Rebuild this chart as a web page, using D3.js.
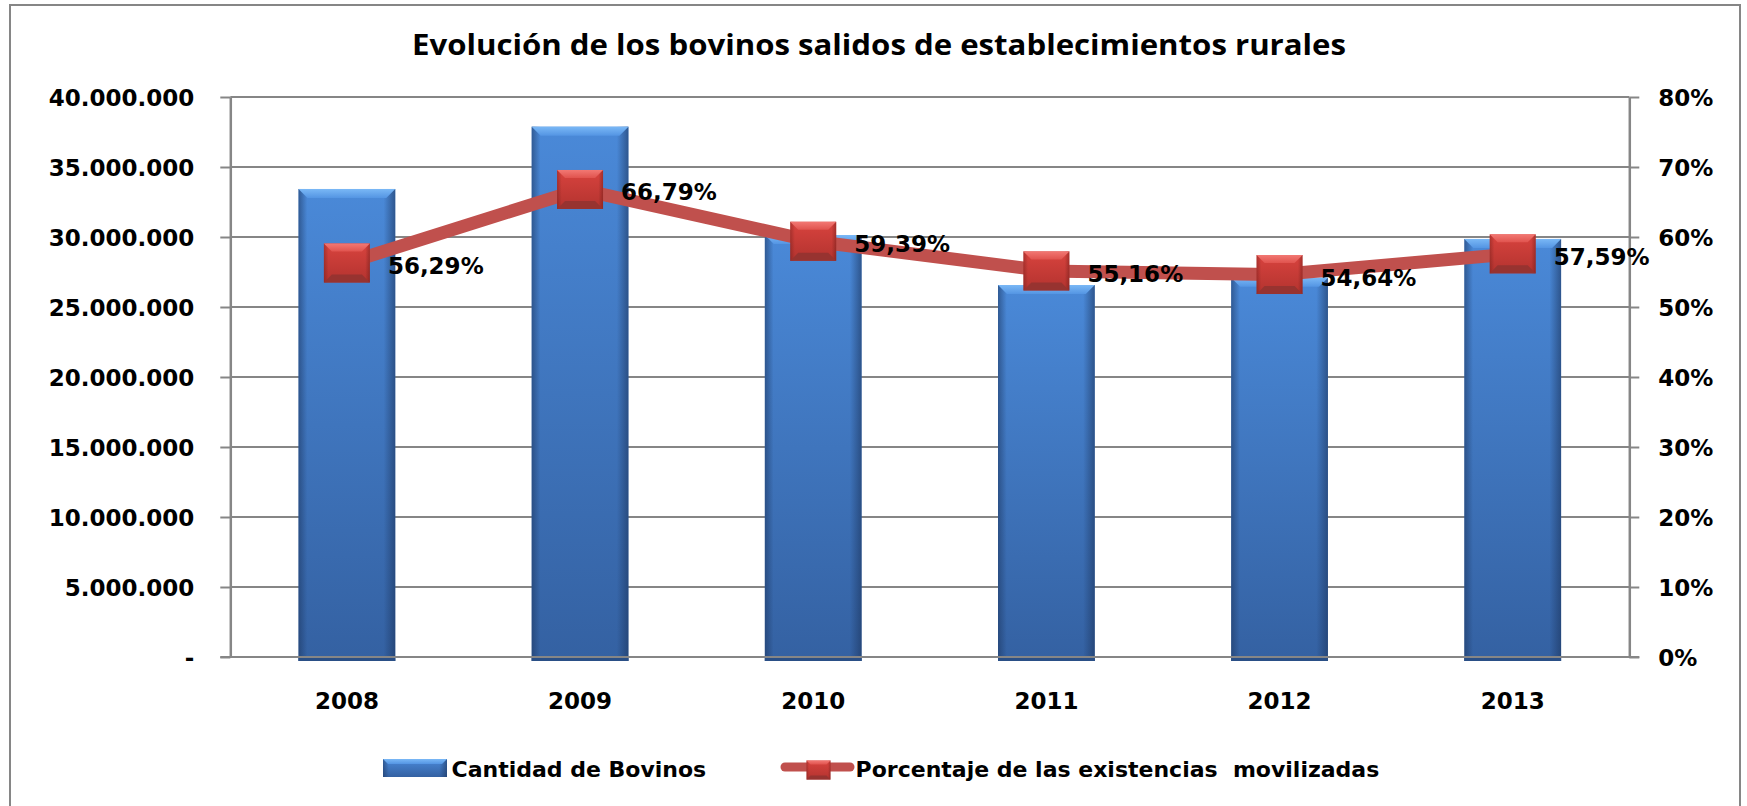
<!DOCTYPE html>
<html>
<head>
<meta charset="utf-8">
<script src="https://cdn.jsdelivr.net/npm/d3@7"></script>
<style>
  body { margin: 0; background: #fff; }
  svg text { font-family: "DejaVu Sans", sans-serif; font-weight: bold; fill: #000; }
</style>
</head>
<body>
<div id="chart"></div>
<script>
const years = ["2008", "2009", "2010", "2011", "2012", "2013"];
const bovinos = [33430000, 37880000, 30140000, 26570000, 27090000, 29860000];
const porcentaje = [56.29, 66.79, 59.39, 55.16, 54.64, 57.59];
const leftTicks = [0, 5000000, 10000000, 15000000, 20000000, 25000000, 30000000, 35000000, 40000000];
const rightTicks = [0, 10, 20, 30, 40, 50, 60, 70, 80];
const title = "Evolución de los bovinos salidos de establecimientos rurales";
const seriesNames = ["Cantidad de Bovinos", "Porcentaje de las existencias  movilizadas"];

const W = 1747, H = 806;
const plot = { left: 230.3, right: 1629.3, top: 97, bottom: 657 };
const grey = "#868686";

const svg = d3.select("#chart").append("svg")
  .attr("width", W).attr("height", H);

const locale = d3.formatLocale({ decimal: ",", thousands: ".", grouping: [3], currency: ["$", ""] });
const fmtInt = locale.format(",d");
const fmtPct = locale.format(",.2f");

// gradients
const defs = svg.append("defs");
function linGrad(id, vertical, stops) {
  const g = defs.append("linearGradient").attr("id", id)
    .attr("x1", 0).attr("y1", 0).attr("x2", vertical ? 0 : 1).attr("y2", vertical ? 1 : 0);
  stops.forEach(s => g.append("stop").attr("offset", s[0]).attr("stop-color", s[1]).attr("stop-opacity", s[2] == null ? 1 : s[2]));
}
linGrad("barV", true, [["0%", "#4a89d8"], ["100%", "#3461a2"]]);
linGrad("barH", false, [["0%", "#1c355e", 0.55], ["9%", "#1c355e", 0], ["88%", "#1c355e", 0], ["100%", "#1c355e", 0.6]]);
linGrad("barTop", true, [["0%", "#7ab8f6"], ["100%", "#5495e3"]]);
linGrad("mkV", true, [["0%", "#d8433e"], ["100%", "#b3332f"]]);
linGrad("mkH", false, [["0%", "#5a1512", 0.35], ["10%", "#5a1512", 0], ["90%", "#5a1512", 0], ["100%", "#5a1512", 0.4]]);
linGrad("mkTop", true, [["0%", "#f27873"], ["100%", "#e0534e"]]);

// frame
svg.append("rect")
  .attr("x", 10).attr("y", 5).attr("width", 1730).attr("height", 810)
  .attr("fill", "none").attr("stroke", grey).attr("stroke-width", 2);

// title
svg.append("text")
  .attr("x", 879).attr("y", 55)
  .attr("text-anchor", "middle")
  .attr("textLength", 934)
  .attr("lengthAdjust", "spacingAndGlyphs")
  .style("font-family", "'Open Sans', sans-serif")
  .style("font-size", "28px")
  .text(title);

const x = d3.scaleBand().domain(years)
  .range([plot.left, plot.right])
  .paddingInner(0.585).paddingOuter(0.2925);
const yL = d3.scaleLinear().domain([0, 40000000]).range([plot.bottom, plot.top]);
const yR = d3.scaleLinear().domain([0, 80]).range([plot.bottom, plot.top]);

// gridlines
svg.append("g").selectAll("line").data(leftTicks).join("line")
  .attr("x1", plot.left).attr("x2", plot.right)
  .attr("y1", d => yL(d)).attr("y2", d => yL(d))
  .attr("stroke", grey).attr("stroke-width", 2);

// left axis
const gL = svg.append("g").attr("transform", `translate(${plot.left},0)`)
  .call(d3.axisLeft(yL).tickValues(leftTicks).tickSize(10).tickSizeOuter(0).tickPadding(26)
    .tickFormat(d => d === 0 ? "-" : fmtInt(d)));
// right axis
const gR = svg.append("g").attr("transform", `translate(${plot.right},0)`)
  .call(d3.axisRight(yR).tickValues(rightTicks).tickSize(10).tickSizeOuter(0).tickPadding(19)
    .tickFormat(d => d + "%"));
[gL, gR].forEach(g => {
  g.select(".domain").attr("stroke", grey).attr("stroke-width", 2.5);
  g.selectAll(".tick line").attr("stroke", grey).attr("stroke-width", 2);
  g.selectAll(".tick text").attr("dy", "0.36em").style("font-size", "23px")
    .style("font-family", "DejaVu Sans, sans-serif").attr("fill", "#000");
});

// bars
const bw = x.bandwidth();
const bars = svg.append("g").selectAll("g").data(years).join("g");
bars.append("rect")
  .attr("x", d => x(d)).attr("width", bw)
  .attr("y", (d, i) => yL(bovinos[i]))
  .attr("height", (d, i) => yL(0) - yL(bovinos[i]) + 4)
  .attr("fill", "url(#barV)");
bars.append("rect")
  .attr("x", d => x(d)).attr("width", bw)
  .attr("y", (d, i) => yL(bovinos[i]))
  .attr("height", (d, i) => yL(0) - yL(bovinos[i]) + 4)
  .attr("fill", "url(#barH)");
bars.append("path")
  .attr("d", (d, i) => {
    const x0 = x(d), x1 = x(d) + bw, t = yL(bovinos[i]);
    return `M${x0},${t}L${x1},${t}L${x1 - 9},${t + 9}L${x0 + 9},${t + 9}Z`;
  })
  .attr("fill", "url(#barTop)");
bars.append("rect")
  .attr("x", d => x(d)).attr("width", bw)
  .attr("y", yL(0) + 1).attr("height", 3)
  .attr("fill", "#2a4f86");

// zero line over the bars
svg.append("line")
  .attr("x1", plot.left - 10).attr("x2", plot.right + 10)
  .attr("y1", yL(0)).attr("y2", yL(0))
  .attr("stroke", grey).attr("stroke-width", 2);

// line series
const cx = d => x(d) + bw / 2;
const line = d3.line().x(d => cx(d)).y((d, i) => yR(porcentaje[i]));
svg.append("path")
  .datum(years)
  .attr("d", line)
  .attr("fill", "none")
  .attr("stroke", "#c0504d")
  .attr("stroke-width", 13)
  .attr("stroke-linejoin", "round");

// markers
function marker(g, mx, my, w, h, b) {
  const x0 = mx - w / 2, y0 = my - h / 2;
  g.append("rect").attr("x", x0).attr("y", y0).attr("width", w).attr("height", h).attr("fill", "url(#mkV)");
  g.append("rect").attr("x", x0).attr("y", y0).attr("width", w).attr("height", h).attr("fill", "url(#mkH)");
  g.append("path")
    .attr("d", `M${x0},${y0}L${x0 + w},${y0}L${x0 + w - b},${y0 + b}L${x0 + b},${y0 + b}Z`)
    .attr("fill", "url(#mkTop)");
  g.append("path")
    .attr("d", `M${x0},${y0 + h}L${x0 + w},${y0 + h}L${x0 + w - b},${y0 + h - b}L${x0 + b},${y0 + h - b}Z`)
    .attr("fill", "#973330");
}
const mk = svg.append("g");
years.forEach((d, i) => marker(mk.append("g"), cx(d), yR(porcentaje[i]), 46, 39, 8));

// data labels
svg.append("g").selectAll("text").data(years).join("text")
  .attr("x", d => cx(d) + 41)
  .attr("y", (d, i) => yR(porcentaje[i]) + 11)
  .style("font-size", "23px")
  .text((d, i) => fmtPct(porcentaje[i]) + "%");

// category labels
svg.append("g").selectAll("text").data(years).join("text")
  .attr("x", d => cx(d))
  .attr("y", yL(0) + 52)
  .attr("text-anchor", "middle")
  .style("font-size", "23px")
  .text(d => d);

// legend
const lg = svg.append("g");
lg.append("rect").attr("x", 383).attr("y", 759).attr("width", 64).attr("height", 18).attr("fill", "url(#barV)");
lg.append("rect").attr("x", 383).attr("y", 759).attr("width", 64).attr("height", 18).attr("fill", "url(#barH)");
lg.append("path").attr("d", "M383,759L447,759L442,764L388,764Z").attr("fill", "url(#barTop)");
lg.append("text").attr("x", 451.5).attr("y", 776.7).style("font-size", "22px").text(seriesNames[0]);

lg.append("line").attr("x1", 785).attr("x2", 850).attr("y1", 767).attr("y2", 767)
  .attr("stroke", "#c0504d").attr("stroke-width", 9).attr("stroke-linecap", "round");
marker(lg.append("g"), 818.5, 770, 24, 19, 4);
lg.append("text").attr("x", 855.6).attr("y", 776.7).style("font-size", "22px")
  .style("white-space", "pre").text(seriesNames[1]);
</script>
</body>
</html>
